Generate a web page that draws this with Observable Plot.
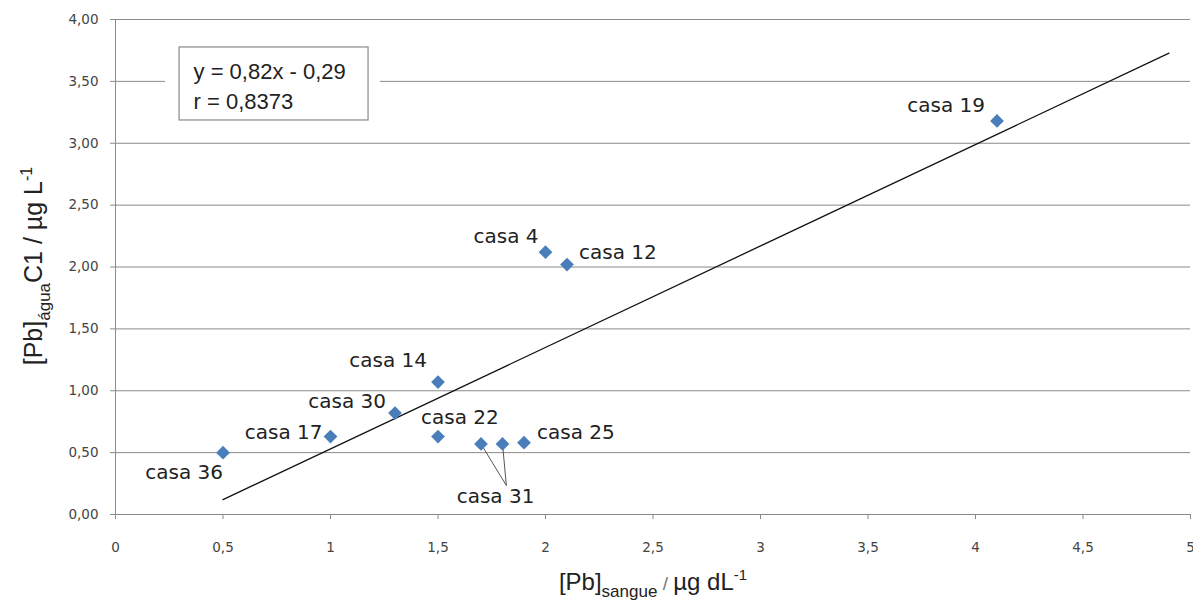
<!DOCTYPE html>
<html><head><meta charset="utf-8">
<script src="https://cdn.jsdelivr.net/npm/d3@7"></script>
<script src="https://cdn.jsdelivr.net/npm/@observablehq/plot@0.6"></script>
<style>body{margin:0;background:#fff;overflow:hidden}#chart svg{display:block}</style>
</head><body><div id="chart"></div>
<script>
// ---- data ----
const casas  = ["casa 36","casa 17","casa 30","casa 14","casa 22","casa 31","casa 31","casa 25","casa 4","casa 12","casa 19"];
const sangue = [0.5, 1.0, 1.3, 1.5, 1.5, 1.7, 1.8, 1.9, 2.0, 2.1, 4.1];
const agua   = [0.50, 0.63, 0.82, 1.07, 0.63, 0.57, 0.57, 0.58, 2.12, 2.02, 3.18];
const xTicks = [0, 0.5, 1, 1.5, 2, 2.5, 3, 3.5, 4, 4.5, 5];
const yTicks = [0, 0.5, 1, 1.5, 2, 2.5, 3, 3.5, 4];
const fit = {slope: 0.82, intercept: -0.29, xFrom: 0.5, xTo: 4.9};
const fitText = ["y = 0,82x - 0,29", "r = 0,8373"];

// ---- layout (annotation placement) ----
const labelLayout = [
  {i: 0, anchor: "end",    dx: 0,   dy: 20},
  {i: 1, anchor: "end",    dx: -8,  dy: -4},
  {i: 2, anchor: "end",    dx: -9,  dy: -11},
  {i: 3, anchor: "end",    dx: -11, dy: -21},
  {i: 4, anchor: "start",  dx: -17, dy: -19},
  {i: 6, anchor: "middle", dx: -7,  dy: 53},
  {i: 7, anchor: "start",  dx: 13,  dy: -10},
  {i: 8, anchor: "end",    dx: -7,  dy: -16},
  {i: 9, anchor: "start",  dx: 12,  dy: -12},
  {i: 10, anchor: "end",   dx: -12, dy: -15}
];
const leaderTarget = {x: 1.818, y: 0.234};
const leaderFrom = [5, 6];
const box = {x1: 0.298, x2: 1.177, y1: 3.184, y2: 3.774, gx1: 0.233, gx2: 1.233, tx: 0.363, ty: [3.58, 3.337]};

const points = casas.map((c, i) => ({casa: c, x: sangue[i], y: agua[i]}));
const fitLine = [fit.xFrom, fit.xTo].map(x => ({x, y: fit.slope * x + fit.intercept}));
const comma = s => String(s).replace(".", ",");
const yFmt = d => d.toFixed(2).replace(".", ",");

const labelMarks = labelLayout.map(L => Plot.text([points[L.i]], {
  x: "x", y: "y", text: "casa", textAnchor: L.anchor, lineAnchor: "middle",
  dx: L.dx, dy: L.dy, fontSize: 20, fontFamily: "DejaVu Sans", fill: "#222"
}));

const svg = Plot.plot({
  width: 1193, height: 609,
  marginLeft: 115, marginRight: 3, marginTop: 19, marginBottom: 95,
  style: {fontFamily: "DejaVu Sans", background: "#fff", overflow: "visible"},
  x: {domain: [0, 5]},
  y: {domain: [0, 4]},
  marks: [
    Plot.gridY(yTicks.filter(d => d > 0), {stroke: "#8a8a8a", strokeOpacity: 1, strokeWidth: 1}),
    Plot.rect([box], {x1: "gx1", x2: "gx2", y1: "y1", y2: "y2", fill: "#fff"}),
    Plot.rect([box], {x1: "x1", x2: "x2", y1: "y1", y2: "y2", fill: "#fff", stroke: "#8a8a8a", strokeWidth: 1.2}),
    Plot.text(fitText, {x: () => box.tx, y: (d, i) => box.ty[i], text: d => d, textAnchor: "start", lineAnchor: "middle", fontSize: 22, fontFamily: "Liberation Sans", fill: "#222"}),
    Plot.ruleX([0], {stroke: "#8a8a8a"}),
    Plot.ruleY([0], {stroke: "#8a8a8a"}),
    Plot.axisY(yTicks, {tickSize: 5, tickFormat: () => "", stroke: "#8a8a8a", label: null}),
    Plot.axisX(xTicks, {tickSize: 5, tickFormat: () => "", stroke: "#8a8a8a", label: null}),
    Plot.text(yTicks, {y: d => d, frameAnchor: "left", text: yFmt, textAnchor: "end", lineAnchor: "middle", dx: -17, fontSize: 13.5, fontFamily: "DejaVu Sans", fill: "#444"}),
    Plot.text(xTicks, {x: d => d, frameAnchor: "bottom", text: comma, textAnchor: "middle", lineAnchor: "middle", dy: 33, fontSize: 13.5, fontFamily: "DejaVu Sans", fill: "#444"}),
    Plot.line(fitLine, {x: "x", y: "y", stroke: "#111", strokeWidth: 1.3}),
    Plot.link(leaderFrom.map(i => points[i]), {x1: "x", y1: "y", x2: () => leaderTarget.x, y2: () => leaderTarget.y, stroke: "#555", strokeWidth: 1}),
    Plot.dot(points, {x: "x", y: "y", symbol: "diamond2", r: 6.2, fill: "#4A7EBB", stroke: "none"}),
    ...labelMarks
  ]
});

const s = d3.select(svg);
// x axis title
const xt = s.append("text").attr("x", 653).attr("y", 590).attr("text-anchor", "middle")
  .attr("font-family", "Liberation Sans").attr("font-size", 24).attr("fill", "#222");
xt.append("tspan").text("[Pb]");
xt.append("tspan").attr("font-size", 17).attr("dy", 7).text("sangue");
xt.append("tspan").attr("dy", -7).attr("fill", "#777").attr("font-size", 19).text(" / ");
xt.append("tspan").text("µg dL");
xt.append("tspan").attr("font-size", 15).attr("dy", -10).text("-1");
// y axis title
const yt = s.append("text").attr("transform", "translate(42,266) rotate(-90)").attr("text-anchor", "middle")
  .attr("font-family", "Liberation Sans").attr("font-size", 25).attr("fill", "#222");
yt.append("tspan").text("[Pb]");
yt.append("tspan").attr("font-size", 17).attr("dy", 8).text("água");
yt.append("tspan").attr("dy", -8).text("C1 / µg L");
yt.append("tspan").attr("font-size", 16).attr("dy", -10).text("-1");

document.getElementById("chart").appendChild(svg);
</script>
</body></html>
